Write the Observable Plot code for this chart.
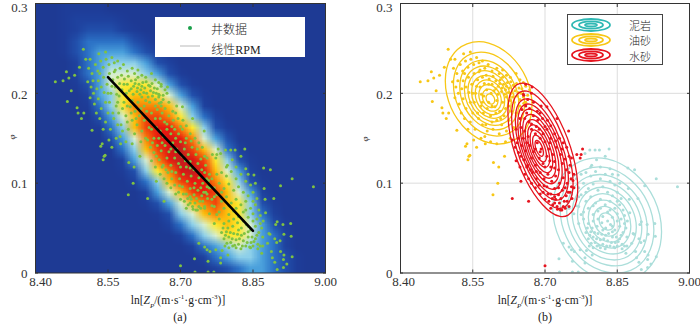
<!DOCTYPE html>
<html><head><meta charset="utf-8">
<style>
html,body{margin:0;padding:0;background:#fff}
#page{position:relative;width:700px;height:324px;overflow:hidden;font-family:"Liberation Serif",serif;color:#222}
#page svg{overflow:visible}
.panel{position:absolute;top:0}
.t{position:absolute;white-space:nowrap;transform:translate(-50%,-50%);font-size:11px;line-height:1}
.t sub{font-size:7px;line-height:0;font-style:italic}
.t sup{font-size:7px;line-height:0}
.cjk{font-family:"Noto Sans CJK SC",sans-serif;font-weight:300;font-size:12px}
.cjk.small{font-size:11px}
.lg{position:absolute;box-sizing:border-box}
</style>
<script src="https://cdn.jsdelivr.net/npm/d3@7"></script>
<script src="https://cdn.jsdelivr.net/npm/@observablehq/plot@0.6"></script>
</head><body><div id="page"></div>
<script>
const xTicks=[8.40,8.55,8.70,8.85,9.00];
const yTicks=[0,0.1,0.2,0.3];
const fitX=[8.55,8.85];
const fitY=[0.218,0.047];

// density: one row per y step, 0 = core, f = background
const densityRows=[
"ffeeee","ffedddde","ffedcccde","ffecbbbbcd","ffecbaaabcd","fffdba999acd","fffdba8889ace",
"fffeca87778ace","ffffda976678ace","ffffeb9755568ad","fffffca8644579bd","fffffeb96433579ce",
"ffffffca8532358ac","ffffffeb96421468bd","fffffffda85312479ce","fffffffec97521368ad",
"ffffffffdb96433579ce","fffffffffda8643468ad","fffffffffeca8654679ce","ffffffffffec9865679bd",
"fffffffffffdb987678ace","ffffffffffffdb98778abd","fffffffffffffdba989abd",
"ffffffffffffffdba99abce","fffffffffffffffdcbaabce"];
const densityColors=["#8a2a2c","#c02020","#dc1414","#e81a10","#f0440c","#f88408","#fcc00c","#fdea30",
"#d8efd0","#8ccfea","#4aa0dc","#2c72c6","#2250ac","#1f429f","#1e3d99","#1e3a94"];

const oilSand=[[8.499,.249],[8.531,.244],[8.545,.246],[8.504,.238],[8.513,.238],[8.441,.213],[8.457,.214],[8.464,.224],[8.469,.217],[8.481,.220],[8.491,.229],[8.474,.203],[8.466,.191],[8.486,.184],[8.495,.172],[8.488,.178],[8.517,.159],[8.500,.178],[8.538,.144],[8.535,.141],[8.542,.130],[8.544,.131],[8.540,.126],[8.558,.140],[8.593,.123],[8.604,.118],[8.616,.130],[8.602,.100],[8.592,.087],[8.576,.144],[8.587,.146],[8.600,.144],[8.618,.146],
[8.510,.228],[8.517,.222],[8.524,.232],[8.529,.225],[8.535,.236],[8.54,.229],[8.546,.238],[8.552,.232],[8.558,.240],[8.563,.234],[8.57,.236],[8.575,.228],[8.582,.232],[8.59,.225],[8.6,.228],[8.605,.222],[8.612,.226],[8.62,.22],[8.628,.218],[8.64,.222],[8.648,.215],[8.655,.212],[8.66,.208],
[8.508,.213],[8.515,.207],[8.52,.2],[8.513,.195],[8.522,.188],[8.53,.214],[8.536,.207],[8.541,.218],[8.548,.21],[8.553,.222],[8.556,.2],[8.56,.215],[8.565,.207],[8.57,.218],[8.574,.211],[8.579,.204],[8.584,.216],[8.59,.21],[8.594,.203],[8.598,.214],[8.603,.208],[8.607,.215],[8.61,.202],[8.614,.21],[8.618,.204],[8.622,.212],[8.626,.206],[8.63,.2],[8.634,.209],[8.638,.203],[8.642,.197],[8.646,.206],[8.65,.2],[8.655,.196],[8.66,.19],[8.664,.198],[8.668,.204],[8.612,.218],[8.62,.196],[8.628,.192],[8.636,.19],
[8.53,.194],[8.536,.183],[8.545,.19],[8.55,.178],[8.545,.168],[8.555,.16],[8.562,.172],[8.567,.186],[8.572,.178],[8.577,.165],[8.583,.19],[8.587,.175],[8.592,.16],[8.596,.185],[8.6,.17],[8.606,.18],[8.61,.165],[8.615,.175],[8.62,.158],[8.625,.17],[8.63,.18],[8.635,.162],[8.628,.15],[8.605,.155],[8.575,.152],[8.567,.15],[8.552,.148],
[8.598,.205],[8.602,.199],[8.606,.211],[8.611,.206],[8.616,.199],[8.62,.208],[8.624,.201],[8.629,.213],[8.633,.196],[8.637,.208],[8.641,.211],[8.644,.201],[8.648,.193],[8.652,.205],[8.656,.189],[8.592,.219],[8.588,.2],[8.583,.21],[8.578,.22],[8.573,.197],[8.568,.199],[8.563,.224],[8.558,.208],[8.55,.2],[8.542,.201],[8.533,.222],[8.527,.205],[8.519,.214],[8.526,.178],[8.533,.172],[8.54,.16],[8.56,.178],[8.57,.165],[8.58,.158],[8.59,.168],[8.598,.178],[8.608,.172],[8.618,.183],[8.625,.186],[8.64,.178],[8.648,.186],[8.612,.19],[8.6,.192],[8.59,.186],[8.58,.183],[8.57,.19],[8.553,.19],[8.565,.226]];

const waterSand=[[8.70,.008],[8.632,.083],[8.666,.080],[8.650,.102],[8.778,.138],[8.766,.132],[8.773,.128],[8.775,.132],[8.749,.158],[8.725,.172],[8.704,.185],[8.673,.207],[8.66,.21],[8.656,.198],
[8.655,.199],[8.664,.193],[8.672,.2],[8.66,.186],[8.668,.183],[8.676,.19],[8.684,.18],[8.692,.186],[8.652,.182],[8.648,.172],[8.658,.172],[8.667,.168],[8.676,.175],[8.685,.17],[8.695,.172],[8.705,.17],[8.712,.164],[8.64,.16],[8.645,.15],[8.65,.162],[8.658,.158],[8.665,.152],[8.672,.16],[8.68,.155],[8.688,.16],[8.696,.155],[8.704,.16],[8.712,.15],[8.72,.155],[8.73,.15],[8.738,.145],[8.632,.148],[8.638,.14],[8.645,.134],[8.652,.142],[8.66,.136],[8.668,.142],[8.676,.135],[8.684,.145],[8.692,.138],[8.7,.146],[8.708,.138],[8.716,.132],[8.724,.14],[8.732,.132],[8.745,.14],[8.75,.13],[8.64,.125],[8.648,.118],[8.656,.126],[8.664,.12],[8.672,.128],[8.68,.12],[8.688,.128],[8.696,.122],[8.704,.13],[8.712,.118],[8.72,.124],[8.728,.115],[8.736,.122],[8.744,.115],[8.752,.12],[8.76,.11],[8.658,.11],[8.666,.105],[8.674,.112],[8.682,.105],[8.69,.112],[8.698,.105],[8.706,.11],[8.714,.102],[8.722,.108],[8.73,.1],[8.738,.106],[8.746,.1],[8.754,.105],[8.68,.095],[8.688,.098],[8.696,.09],[8.704,.096],[8.712,.088],[8.72,.094],[8.728,.087],[8.736,.092],[8.744,.086],[8.752,.09],[8.76,.095],[8.7,.082],[8.708,.08],[8.716,.076],[8.722,.082],[8.73,.078],[8.738,.074],[8.746,.08],[8.75,.074],[8.726,.071],[8.735,.07],[8.742,.072],[8.72,.085],[8.756,.083],
[8.662,.178],[8.672,.166],[8.682,.163],[8.69,.178],[8.7,.163],[8.71,.145],[8.722,.147],[8.735,.138],[8.742,.127],[8.755,.128],[8.75,.112],[8.758,.103],[8.742,.095],[8.733,.083],[8.725,.074],[8.715,.083],[8.706,.088],[8.698,.097],[8.69,.088],[8.682,.113],[8.672,.1],[8.662,.118],[8.65,.13],[8.642,.145],[8.655,.15],[8.662,.145],[8.69,.15],[8.68,.138],[8.67,.115],[8.7,.118],[8.71,.125],[8.74,.08],[8.748,.09],[8.755,.096],[8.732,.07],[8.712,.072],[8.72,.078],[8.728,.095],[8.69,.135],[8.72,.117]];

const shale=[[8.975,.096],[8.931,.105],[8.907,.097],[8.886,.115],[8.872,.117],[8.852,.109],[8.873,.094],[8.893,.083],[8.875,.082],[8.876,.067],[8.871,.058],[8.900,.057],[8.897,.054],[8.912,.054],[8.928,.055],[8.914,.043],[8.929,.041],[8.895,.038],[8.883,.044],[8.885,.043],[8.880,.033],[8.906,.036],[8.899,.034],[8.868,.022],[8.888,.024],[8.907,.024],[8.914,.020],[8.931,.018],[8.890,.017],[8.913,.015],[8.895,.012],[8.920,.010],[8.900,.004],[8.913,.006],
[8.738,.033],[8.750,.029],[8.761,.024],[8.755,.026],[8.773,.026],[8.786,.025],[8.798,.020],[8.783,.017],[8.757,.013],[8.783,.011],[8.729,.016],[8.730,.001],[8.757,.001],[8.769,.001],
[8.813,.137],[8.833,.138],[8.804,.137],[8.793,.137],[8.783,.133],[8.825,.130],[8.835,.116],[8.807,.126],[8.797,.120],
[8.765,.105],[8.775,.11],[8.785,.112],[8.795,.108],[8.805,.113],[8.815,.105],[8.825,.11],[8.835,.102],[8.845,.098],[8.77,.095],[8.78,.1],[8.79,.094],[8.8,.099],[8.81,.092],[8.82,.096],[8.83,.09],[8.84,.086],[8.85,.09],[8.858,.083],[8.755,.088],[8.765,.082],[8.775,.087],[8.785,.08],[8.795,.085],[8.805,.078],[8.815,.082],[8.825,.076],[8.835,.08],[8.845,.072],[8.855,.076],[8.862,.07],[8.75,.072],[8.76,.066],[8.77,.074],[8.78,.068],[8.79,.072],[8.8,.065],[8.81,.069],[8.82,.063],[8.83,.068],[8.84,.062],[8.85,.066],[8.858,.06],[8.865,.064],[8.868,.05],[8.77,.055],[8.78,.06],[8.79,.055],[8.8,.058],[8.808,.052],[8.818,.056],[8.826,.05],[8.836,.054],[8.845,.048],[8.855,.052],[8.862,.045],[8.785,.045],[8.79,.038],[8.795,.046],[8.8,.04],[8.804,.034],[8.81,.044],[8.815,.037],[8.82,.032],[8.826,.042],[8.83,.036],[8.835,.03],[8.84,.04],[8.846,.034],[8.85,.03],[8.855,.038],[8.86,.032],[8.865,.03],[8.87,.04],[8.808,.03],[8.796,.033],[8.84,.046],
[8.803,.045],[8.807,.038],[8.812,.031],[8.818,.043],[8.822,.038],[8.828,.03],[8.832,.044],[8.838,.034],[8.843,.029],[8.848,.04],[8.852,.035],[8.858,.042],[8.793,.042],[8.788,.05],[8.798,.05],[8.81,.06],[8.82,.048],[8.83,.058],[8.84,.052],[8.85,.058],[8.775,.065],[8.765,.075],[8.76,.095],[8.77,.085],[8.785,.09],[8.8,.075],[8.815,.072],[8.835,.07],[8.85,.08],[8.865,.055],[8.792,.03],[8.8,.028],[8.815,.028],[8.825,.027],[8.845,.028],[8.86,.027],[8.87,.03],[8.795,.118],[8.815,.118],[8.84,.11],[8.855,.1]];

// outermost contour of each class, its inner peak, and ring sizes
const oilOutline=[[8.673,.187],[8.661,.217],[8.628,.242],[8.583,.256],[8.538,.255],[8.505,.240],[8.493,.214],[8.505,.184],[8.538,.159],[8.583,.145],[8.628,.146],[8.661,.161]];
const oilPeak=[8.587,.193];
const oilRings=[1,.82,.68,.58,.5,.42,.34,.26,.18,.1];
const waterOutline=[[8.768,.094],[8.758,.131],[8.731,.169],[8.695,.198],[8.659,.211],[8.632,.204],[8.623,.179],[8.632,.143],[8.659,.105],[8.695,.076],[8.731,.063],[8.758,.070]];
const waterPeak=[8.687,.139];
const waterRings=[1,.88,.76,.68,.6,.52,.44,.36,.28,.2,.12];
const shaleOutline=[[8.942,.046],[8.927,.082],[8.886,.111],[8.829,.127],[8.772,.124],[8.731,.104],[8.716,.072],[8.731,.037],[8.772,.007],[8.829,-.008],[8.886,-.006],[8.927,.014]];
const shalePeak=[8.828,.057];
const shaleRings=[1,.86,.74,.64,.54,.44,.34,.24,.14];

const density=densityRows.flatMap(r=>[...r.padEnd(25,"f")].map(c=>parseInt(c,16)));
const allPoints=[...oilSand,...waterSand,...shale];
const rings=(outline,peak,sizes)=>sizes.flatMap((s,i)=>outline.map(([x,y])=>({ring:i,x:peak[0]+(x-peak[0])*s,y:peak[1]+(y-peak[1])*s})));

const ink="#333";
const yFmt=d=>d===0?"0":d3.format(".1f")(d);
const xFmt=d3.format(".2f");
function axes(firstShift){return [
  Plot.axisX(xTicks,{anchor:"bottom",tickSize:-3,tickFormat:()=>"",label:null,stroke:ink}),
  Plot.axisX(xTicks.slice(1),{anchor:"bottom",tickSize:0,tickPadding:4,tickFormat:xFmt,label:null,fontSize:13,color:ink}),
  Plot.axisX(xTicks.slice(0,1),{anchor:"bottom",tickSize:0,tickPadding:4,tickFormat:xFmt,label:null,fontSize:13,color:ink,dx:firstShift}),
  Plot.axisX(xTicks,{anchor:"top",tickSize:-3,tickFormat:()=>"",label:null,stroke:ink}),
  Plot.axisY(yTicks,{anchor:"left",tickSize:-3,tickFormat:()=>"",label:null,stroke:ink}),
  Plot.axisY(yTicks.slice(0,3),{anchor:"left",tickSize:0,tickPadding:8,tickFormat:yFmt,label:null,fontSize:13,color:ink,dy:1}),
  Plot.axisY(yTicks.slice(3),{anchor:"left",tickSize:0,tickPadding:8,tickFormat:yFmt,label:null,fontSize:13,color:ink,dy:4}),
  Plot.axisY(yTicks,{anchor:"right",tickSize:-3,tickFormat:()=>"",label:null,stroke:ink}),
  Plot.frame({stroke:ink,strokeWidth:1})
];}
const base=(ml,mr)=>({width:350,height:324,marginLeft:ml,marginRight:mr,marginTop:3,marginBottom:51.5,
  x:{domain:[8.4,9],label:null},y:{domain:[0,0.3],label:null},style:{fontFamily:'"Liberation Serif",serif',background:"transparent"}});

const panelA=Plot.plot({...base(35,25),
  color:{type:"linear",domain:d3.range(16),range:densityColors},
  marks:[
    Plot.raster(density,{width:25,height:25,x1:8.4,x2:9,y1:0.3,y2:0,fill:d=>d,imageRendering:"auto"}),
    Plot.dot(allPoints,{x:d=>d[0],y:d=>d[1],r:1.5,fill:"#7fc242",clip:true}),
    Plot.line(fitX.map((x,i)=>({x,y:fitY[i]})),{x:"x",y:"y",stroke:"#000",strokeWidth:2.6}),
    ...axes(5)
  ]});
const ringMark=(o,p,s,c)=>Plot.line(rings(o,p,s),{x:"x",y:"y",z:"ring",curve:"cardinal-closed",stroke:c,strokeWidth:1.3,clip:true});
const dotMark=(d,c)=>Plot.dot(d,{x:d=>d[0],y:d=>d[1],r:1.5,fill:c,clip:true});
const teal="#abdeda",gold="#f7c716",red="#e6141e";
const panelB=Plot.plot({...base(50,11),
  marks:[
    Plot.gridX(xTicks,{stroke:"#ddd",strokeOpacity:1}),
    Plot.gridY(yTicks,{stroke:"#ddd",strokeOpacity:1}),
    ringMark(shaleOutline,shalePeak,shaleRings,teal),dotMark(shale,teal),
    ringMark(oilOutline,oilPeak,oilRings,gold),dotMark(oilSand,gold),
    ringMark(waterOutline,waterPeak,waterRings,red),dotMark(waterSand,red),
    ...axes(3)
  ]});

const page=document.getElementById("page");
const put=(el,left)=>{const d=document.createElement("div");d.className="panel";d.style.left=left+"px";d.appendChild(el);page.appendChild(d);};
put(panelA,0);put(panelB,350);

const label='ln[<i>Z</i><sub>P</sub>/(m·s<sup>-1</sup>·g·cm<sup>-3</sup>)]';
const icon=c=>`<svg width="40" height="14" viewBox="-20 -7 40 14" style="position:absolute;left:0;top:0;overflow:visible">`+
  [[19,6],[12,3.6],[6,1.5]].map(([rx,ry])=>`<ellipse rx="${rx}" ry="${ry}" fill="none" stroke="${c}" stroke-width="1.8"/>`).join("")+`</svg>`;
page.insertAdjacentHTML("beforeend",`
<div class="t" style="left:178px;top:301px;font-size:11.5px">${label}</div>
<div class="t" style="left:545px;top:301px;font-size:11.5px">${label}</div>
<div class="t" style="left:180px;top:317px;font-size:12px">(a)</div>
<div class="t" style="left:545px;top:317px;font-size:12px">(b)</div>
<div class="t" style="left:12px;top:137px;transform:translate(-50%,-50%) rotate(-90deg);font-style:italic;font-size:9px">φ</div>
<div class="t" style="left:365px;top:139px;transform:translate(-50%,-50%) rotate(-90deg);font-style:italic;font-size:9px">φ</div>
<div class="lg" style="left:155px;top:17px;width:150px;height:40px;background:#fff"></div>
<div class="lg" style="left:188px;top:26px;width:4px;height:4px;border-radius:50%;background:#1aa04a"></div>
<div class="lg" style="left:180px;top:45px;width:20px;height:1.5px;background:#dcdcdc"></div>
<div class="t cjk" style="left:229px;top:29px">井数据</div>
<div class="t cjk" style="left:236px;top:49px">线性<span style="font-family:'Liberation Serif'">RPM</span></div>
<div class="lg" style="left:567px;top:14px;width:96px;height:51px;background:#fff;border:1.5px solid #444"></div>
<div class="lg" style="left:571px;top:18px;width:40px;height:14px">${icon("#2fb8b4")}</div>
<div class="lg" style="left:571px;top:33px;width:40px;height:14px">${icon("#f7c716")}</div>
<div class="lg" style="left:571px;top:48px;width:40px;height:14px">${icon("#e6141e")}</div>
<div class="t cjk small" style="left:640px;top:25px">泥岩</div>
<div class="t cjk small" style="left:640px;top:40px">油砂</div>
<div class="t cjk small" style="left:640px;top:56px">水砂</div>
`);
</script></body></html>
